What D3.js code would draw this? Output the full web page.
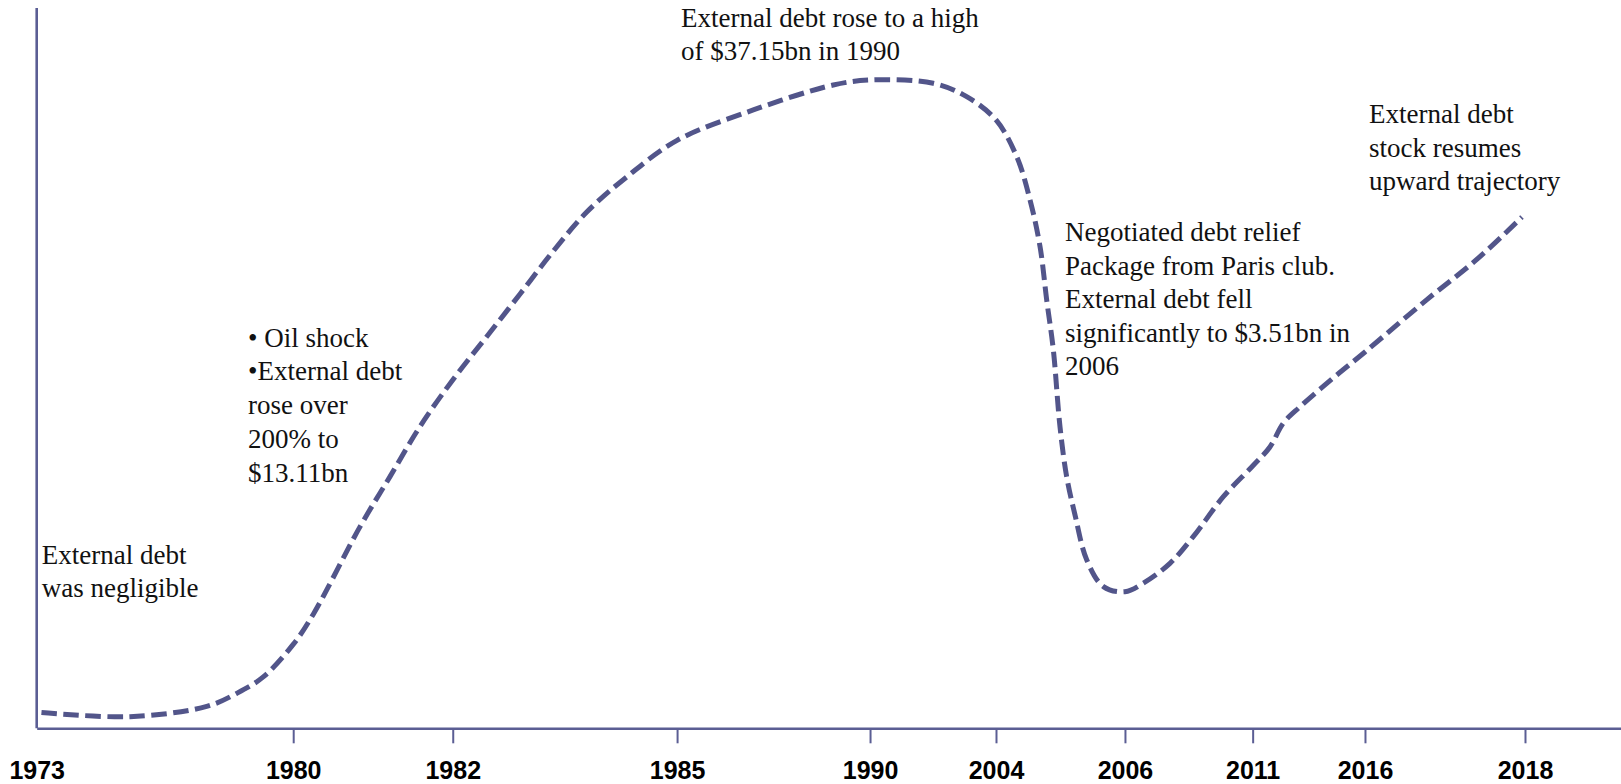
<!DOCTYPE html>
<html>
<head>
<meta charset="utf-8">
<script src="https://cdn.jsdelivr.net/npm/d3@7"></script>
<style>
  html, body { margin: 0; padding: 0; background: #ffffff; }
  svg { display: block; }
</style>
</head>
<body>
<div id="chart"></div>
<script>
// Axis labels and where each sits on the timeline (0 = origin, 100 = right end)
const tickYears = ["1973", "1980", "1982", "1985", "1990", "2004", "2006", "2011", "2016", "2018"];
const tickPos   = [0, 16.19, 26.26, 40.42, 52.60, 60.55, 68.69, 76.75, 83.84, 93.94];

// External debt stock path (US$ bn) along the same timeline
const curvePos = [0.3, 5.89, 10.73, 12.62, 14.30, 16.19, 17.46, 20.41, 22.30,
                  24.19, 26.26, 28.40, 30.51, 32.61, 34.72, 37.24, 40.42, 45.23, 50.28,
                  52.60, 56.59, 58.70, 60.55, 61.86, 62.70, 63.33, 63.75, 64.17, 64.59,
                  65.01, 65.54, 66.28, 67.33, 68.69, 69.85, 71.53, 73.00, 74.90, 76.75,
                  77.85, 78.68, 79.74, 81.84, 83.84, 87.73, 90.97, 93.75];
const debtBn   = [0.77, 0.71, 0.86, 1.07, 1.37, 2.07, 2.85, 5.81, 7.97,
                  10.47, 13.11, 15.82, 18.75, 21.94, 25.06, 28.04, 31.33, 34.20, 36.65,
                  37.15, 36.82, 35.49, 33.24, 29.84, 26.06, 22.28, 18.32, 14.96, 10.46,
                  7.97, 6.28, 4.56, 3.67, 3.51, 3.78, 4.44, 5.42, 7.06, 8.47,
                  9.42, 10.65, 11.56, 13.23, 14.83, 18.33, 21.37, 24.65];

// Annotation texts
const noteNegligible = ["External debt", "was negligible"];
const noteOilShock   = ["\u2022 Oil shock", "\u2022External debt", "rose over", "200% to", "$13.11bn"];
const notePeak       = ["External debt rose to a high", "of $37.15bn in 1990"];
const noteRelief     = ["Negotiated debt relief", "Package from Paris club.", "External debt fell",
                        "significantly to $3.51bn in", "2006"];
const noteResume     = ["External debt", "stock resumes", "upward trajectory"];

// ---- layout ----
const W = 1621, H = 784;
const originX = 36.7, axisY = 728.3, topY = 8;
const axisColor = "#5b5e94";
const lineColor = "#52558a";

const svg = d3.select("#chart").append("svg")
  .attr("width", W).attr("height", H);

const x = d3.scaleLinear().domain([0, 100]).range([originX, W]);
const y = d3.scaleSqrt().domain([0, 40]).range([818.8, 52.2]);

// vertical axis line
svg.append("line")
  .attr("x1", x(0)).attr("x2", x(0))
  .attr("y1", topY).attr("y2", axisY)
  .attr("stroke", axisColor).attr("stroke-width", 2.6);

// horizontal axis with year ticks
const xAxis = d3.axisBottom(x)
  .tickValues(tickPos)
  .tickFormat((d, i) => tickYears[i])
  .tickSize(15)
  .tickSizeOuter(0)
  .tickPadding(0);

const gx = svg.append("g")
  .attr("transform", `translate(0,${axisY})`)
  .call(xAxis);

gx.select(".domain")
  .attr("stroke", axisColor).attr("stroke-width", 2.6);
gx.selectAll(".tick line")
  .attr("stroke", axisColor).attr("stroke-width", 2)
  .attr("y1", 1.3)
  .style("display", (d, i) => i === 0 ? "none" : null);
gx.selectAll(".tick text")
  .attr("y", 0).attr("dy", null)
  .attr("transform", "translate(0,51)")
  .attr("fill", "#000")
  .style("font-family", "'Liberation Sans', Arial, sans-serif")
  .style("font-weight", "bold")
  .style("font-size", "25px");

// debt curve
const pts = curvePos.map((p, i) => [p, debtBn[i]]);
const line = d3.line()
  .x(d => x(d[0]))
  .y(d => y(d[1]))
  .curve(d3.curveCatmullRom.alpha(0.5));

svg.append("path")
  .datum(pts)
  .attr("d", line)
  .attr("fill", "none")
  .attr("stroke", lineColor)
  .attr("stroke-width", 5)
  .attr("stroke-dasharray", "15.5 6.5")
  .attr("stroke-linecap", "butt");

// annotations
const notes = [
  { lines: noteNegligible, left: 41.7, baseline: 564,   step: 33 },
  { lines: noteOilShock,   left: 248,  baseline: 346.7, step: 33.7 },
  { lines: notePeak,       left: 681,  baseline: 27,    step: 33 },
  { lines: noteRelief,     left: 1065, baseline: 241,   step: 33.5 },
  { lines: noteResume,     left: 1369, baseline: 123.3, step: 33.3 }
];

notes.forEach(n => {
  const t = svg.append("text")
    .attr("x", n.left).attr("y", n.baseline)
    .attr("fill", "#111")
    .style("font-family", "'Liberation Serif', 'DejaVu Serif', 'Times New Roman', serif")
    .style("font-size", "27px");
  n.lines.forEach((s, i) => {
    t.append("tspan")
      .attr("x", n.left)
      .attr("y", n.baseline + i * n.step)
      .text(s);
  });
});
</script>
</body>
</html>
